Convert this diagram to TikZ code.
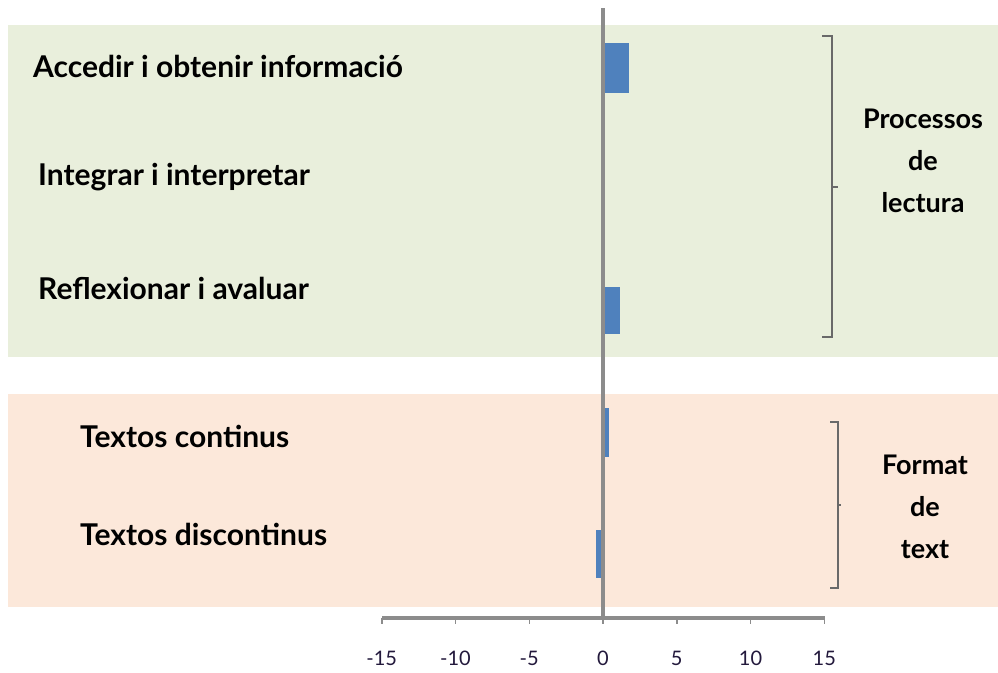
\documentclass[tikz,border=0pt]{standalone}
\usepackage{fontspec}
\setmainfont{Lato}
\usetikzlibrary{positioning,calc}

\definecolor{bandgreen}{RGB}{233,239,220}
\definecolor{bandpeach}{RGB}{252,232,218}
\definecolor{barblue}{RGB}{79,129,189}
\definecolor{axisgray}{RGB}{140,140,140}
\definecolor{bracketgray}{RGB}{105,105,105}
\definecolor{tickink}{RGB}{35,25,60}

\begin{document}
\begin{tikzpicture}[x=1pt, y=-1pt,
  catlabel/.style={anchor=base west, inner sep=0pt, font=\fontsize{30}{35}\selectfont\bfseries},
  grouplabel/.style={align=center, inner sep=0pt, font=\fontsize{27}{42}\selectfont\bfseries},
  ticklabel/.style={inner sep=0pt, text=tickink, font=\fontsize{20}{24}\selectfont},
  bar/.style={fill=barblue, draw=none},
  axisline/.style={draw=axisgray, line width=3.5pt},
  bracket/.style={draw=bracketgray, line width=1.3pt}
]
  \useasboundingbox (0,0) rectangle (998,672);

  % bands
  \fill[bandgreen] (8,25) rectangle (998,357);
  \fill[bandpeach] (8,394) rectangle (998,607);

  % bars
  \fill[bar] (603,43) rectangle (629,93);
  \fill[bar] (603,287) rectangle (620,334);
  \fill[bar] (603,408) rectangle (609,457);
  \fill[bar] (596,530) rectangle (603,578);

  % axes
  \coordinate (top) at (603,8);
  \coordinate (origin) at (603,618);
  \coordinate (xmin) at (382,618);
  \coordinate (xmax) at (825,618);
  \draw[axisline] (top) -- (origin);
  \draw[axisline] (xmin) -- (xmax);
  \foreach \v in {-15,-10,...,15} {
    \draw[draw=axisgray, line width=1.5pt] ($(origin)+(\v*14.75,0)$) -- ++(0,6);
    \node[ticklabel] (tick\v) at ($(origin)+(\v*14.75,40)$) {\v};
  }

  % categories
  \node[catlabel] (accedir) at (33,77) {Accedir i obtenir informació};
  \node[catlabel] (integrar) at (38,185) {Integrar i interpretar};
  \node[catlabel] (reflexionar) at (38,299) {Reflexionar i avaluar};
  \node[catlabel] (continus) at (80,447) {Textos continus};
  \node[catlabel] (discontinus) at (80,545) {Textos discontinus};

  % brackets
  \draw[bracket] (822,36) -- (832,36) -- (832,337) -- (822,337);
  \draw[bracket] (832,187) -- (838,187);
  \draw[bracket] (830,422) -- (838,422) -- (838,588) -- (830,588);
  \draw[bracket] (838,505) -- (841,505);

  % groups
  \node[grouplabel] (processos) at (923,161) {Processos\\de\\lectura};
  \node[grouplabel] (format) at (925,507) {Format\\de\\text};
\end{tikzpicture}
\end{document}
